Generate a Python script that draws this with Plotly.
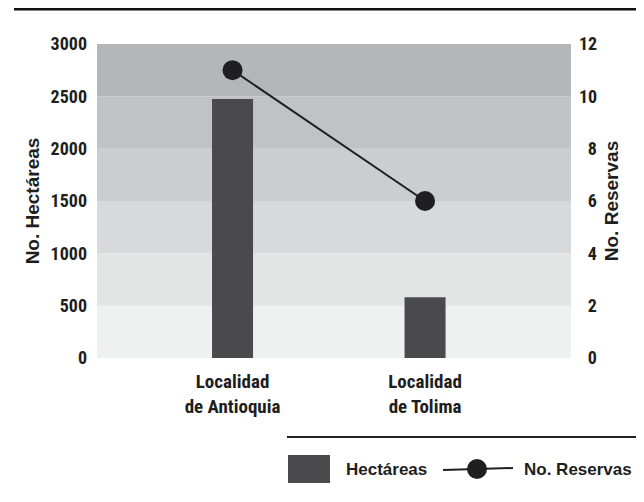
import plotly.graph_objects as go

categories = ["Localidad<br>de Antioquia", "Localidad<br>de Tolima"]
hectareas = [2475, 580]
reservas = [11, 6]
left_ticks = [0, 500, 1000, 1500, 2000, 2500, 3000]
right_ticks = [0, 2, 4, 6, 8, 10, 12]
band_colors = ["#eff1f1", "#e3e5e5", "#d7d9dc", "#cbced1", "#c0c3c6", "#b4b7ba"]

FONT = "Roboto Condensed, Liberation Sans, Arial, sans-serif"
FONT2 = "Liberation Sans, Arial, sans-serif"
TXT = "#1e1e1e"

xs = [0, 1]
fig = go.Figure()
fig.add_trace(go.Bar(x=xs, y=hectareas, width=0.213, marker=dict(color="#4a4a4d", line=dict(width=0)),
                     name="Hectáreas", showlegend=False))
fig.add_trace(go.Scatter(x=xs, y=reservas, yaxis="y2", mode="lines+markers",
                         line=dict(color="#1f1f22", width=2),
                         marker=dict(color="#1f1f22", size=20),
                         name="No. Reservas", showlegend=False))

shapes = []
for i, c in enumerate(band_colors):
    shapes.append(dict(type="rect", xref="paper", yref="y", x0=0, x1=1,
                       y0=left_ticks[i], y1=left_ticks[i + 1], fillcolor=c,
                       line=dict(width=0), layer="below"))
W, H = 474, 314
def px(x):
    return (x - 97) / W
def py(y):
    return (358 - y) / H
# top rule
shapes.append(dict(type="line", xref="paper", yref="paper", x0=px(14), x1=px(640), y0=py(8), y1=py(8),
                   line=dict(color="#111", width=5)))
# legend rule & symbols
shapes.append(dict(type="line", xref="paper", yref="paper", x0=px(287), x1=px(637), y0=py(437), y1=py(437),
                   line=dict(color="#222", width=2)))
shapes.append(dict(type="rect", xref="paper", yref="paper", x0=px(288), x1=px(330), y0=py(483), y1=py(455),
                   fillcolor="#4a4a4d", line=dict(width=0)))
shapes.append(dict(type="line", xref="paper", yref="paper", x0=px(443), x1=px(513), y0=py(470), y1=py(468),
                   line=dict(color="#1f1f22", width=2)))
shapes.append(dict(type="circle", xref="paper", yref="paper", x0=px(467), x1=px(487), y0=py(479), y1=py(459),
                   fillcolor="#1f1f22", line=dict(width=0)))

annotations = [
    dict(text="<b>Hectáreas</b>", xref="paper", yref="paper", x=px(344), y=py(469), xanchor="left", yanchor="middle",
         showarrow=False, font=dict(family=FONT2, size=17, color=TXT)),
    dict(text="<b>No. Reservas</b>", xref="paper", yref="paper", x=px(522), y=py(469), xanchor="left", yanchor="middle",
         showarrow=False, font=dict(family=FONT2, size=17, color=TXT)),
]

fig.update_layout(
    width=636, height=494,
    margin=dict(l=89, r=73, t=36, b=144),
    paper_bgcolor="white", plot_bgcolor="white",
    showlegend=False,
    shapes=shapes, annotations=annotations,
    font=dict(family=FONT, size=16, color=TXT),
    xaxis=dict(range=[-0.704, 1.758], tickvals=xs, ticktext=["<b>" + c.replace("<br>", "</b><br><b>") + "</b>" for c in categories],
               showgrid=False, zeroline=False, showline=False, ticks="", ticklabelstandoff=10,
               tickfont=dict(family=FONT, size=19, color=TXT)),
    yaxis=dict(range=[0, 3000], tickvals=left_ticks, ticktext=["<b>%d</b>" % v for v in left_ticks],
               showgrid=False, zeroline=False, showline=False, ticks="", ticklabelstandoff=9,
               title=dict(text="<b>No. Hectáreas</b>", standoff=5, font=dict(family=FONT2, size=19, color=TXT)),
               tickfont=dict(family=FONT, size=18, color=TXT)),
    yaxis2=dict(range=[0, 12], overlaying="y", side="right", tickvals=right_ticks,
                ticktext=["<b>%s</b>" % (("\u2007" + str(v)) if v < 10 else str(v)) for v in right_ticks],
                showgrid=False, zeroline=False, showline=False, ticks="", ticklabelstandoff=7,
                title=dict(text="<b>No. Reservas</b>", standoff=8, font=dict(family=FONT2, size=19, color=TXT)),
                tickfont=dict(family=FONT, size=18, color=TXT)),
)

fig.write_html("out.html")
